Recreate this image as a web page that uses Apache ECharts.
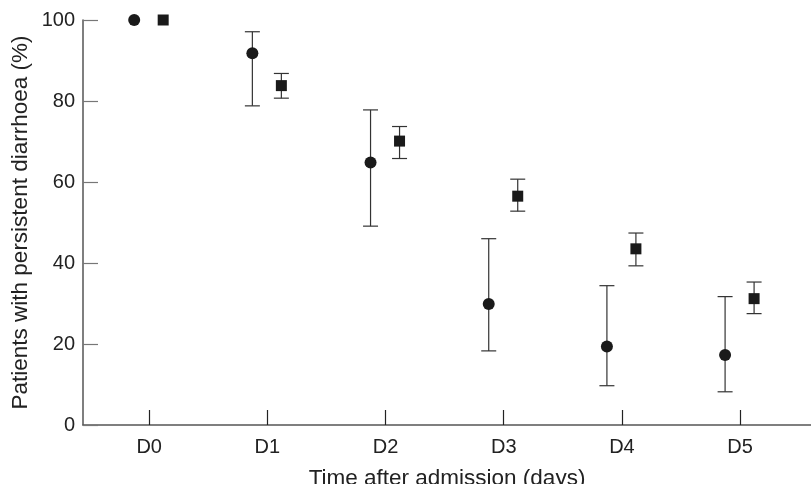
<!DOCTYPE html>
<html>
<head>
<meta charset="utf-8">
<script src="https://cdn.jsdelivr.net/npm/echarts@6/dist/echarts.min.js"></script>
<style>
  html, body { margin: 0; padding: 0; background: #fff; }
  #chart { width: 811px; height: 484px; }
</style>
</head>
<body>
<div id="chart"></div>
<script>
// 数据
var days = ['D0', 'D1', 'D2', 'D3', 'D4', 'D5'];

// circles
var circleMean = [100, 91.8, 64.8, 29.9, 19.4, 17.3];
var circleLow = [null, 78.8, 49.1, 18.3, 9.7, 8.2];
var circleHigh = [null, 97.1, 77.8, 46.0, 34.4, 31.7];

// squares
var squareMean = [100, 83.8, 70.1, 56.5, 43.5, 31.2];
var squareLow = [null, 80.7, 65.8, 52.8, 39.3, 27.5];
var squareHigh = [null, 86.8, 73.7, 60.7, 47.4, 35.3];

var yTicks = [0, 20, 40, 60, 80, 100];

var circleShift = -15;
var squareShift = 14;

function pointData(vals) {
    return vals.map(function (v, i) { return [i, v]; });
}

function barData(low, high) {
    var out = [];
    for (var i = 0; i < low.length; i++) {
        if (low[i] !== null) out.push([i, low[i], high[i]]);
    }
    return out;
}

function errorBar(shift) {
    return function (params, api) {
        var lo = api.coord([api.value(0), api.value(1)]);
        var hi = api.coord([api.value(0), api.value(2)]);
        var x = lo[0] + shift;
        var half = 7.5;
        var style = { stroke: '#333', lineWidth: 1.2 };
        return {
            type: 'group',
            children: [
                { type: 'line', shape: { x1: x, y1: lo[1], x2: x, y2: hi[1] }, style: style },
                { type: 'line', shape: { x1: x - half, y1: lo[1], x2: x + half, y2: lo[1] }, style: style },
                { type: 'line', shape: { x1: x - half, y1: hi[1], x2: x + half, y2: hi[1] }, style: style }
            ]
        };
    };
}

var chart = echarts.init(document.getElementById('chart'));

var option = {
    backgroundColor: '#fff',
    animation: false,
    textStyle: { fontFamily: 'Liberation Sans, Arial, sans-serif' },
    grid: { left: 83, right: 0, top: 20, bottom: 59, containLabel: false, outerBoundsMode: 'none' },
    xAxis: {
        type: 'value',
        min: -0.56,
        max: 5.6,
        name: 'Time after admission (days)',
        nameLocation: 'middle',
        nameGap: 42,
        nameTextStyle: { fontSize: 22.5, color: '#222' },
        axisLine: { onZero: false, lineStyle: { color: '#555', width: 1.5 } },
        axisTick: {
            inside: true, length: 15, customValues: [0, 1, 2, 3, 4, 5],
            lineStyle: { color: '#222', width: 1.2 }
        },
        axisLabel: {
            customValues: [0, 1, 2, 3, 4, 5],
            fontSize: 20, color: '#222', margin: 12,
            formatter: function (v) { return days[Math.round(v)]; }
        },
        splitLine: { show: false }
    },
    yAxis: {
        type: 'value',
        min: 0,
        max: 100,
        interval: 20,
        name: 'Patients with persistent diarrhoea (%)',
        nameLocation: 'middle',
        nameGap: 51,
        nameMoveOverlap: false,
        nameTextStyle: { fontSize: 22.5, color: '#222' },
        axisLine: { show: true, onZero: false, lineStyle: { color: '#555', width: 1.5 } },
        axisTick: {
            show: true, inside: true, length: 15,
            lineStyle: { color: '#777', width: 1.2 }
        },
        axisLabel: {
            fontSize: 20, color: '#222', margin: 8,
            formatter: function (v) { return yTicks.indexOf(v) >= 0 ? String(v) : ''; }
        },
        splitLine: { show: false }
    },
    series: [
        {
            type: 'custom',
            renderItem: errorBar(circleShift),
            data: barData(circleLow, circleHigh),
            z: 2
        },
        {
            type: 'custom',
            renderItem: errorBar(squareShift),
            data: barData(squareLow, squareHigh),
            z: 2
        },
        {
            type: 'scatter',
            data: pointData(circleMean),
            symbol: 'circle',
            symbolSize: 12,
            symbolOffset: [circleShift, 0],
            itemStyle: { color: '#1a1a1a', opacity: 1 },
            z: 3
        },
        {
            type: 'scatter',
            data: pointData(squareMean),
            symbol: 'rect',
            symbolSize: 11,
            symbolOffset: [squareShift, 0],
            itemStyle: { color: '#1a1a1a', opacity: 1 },
            z: 3
        }
    ]
};

chart.setOption(option);
</script>
</body>
</html>
